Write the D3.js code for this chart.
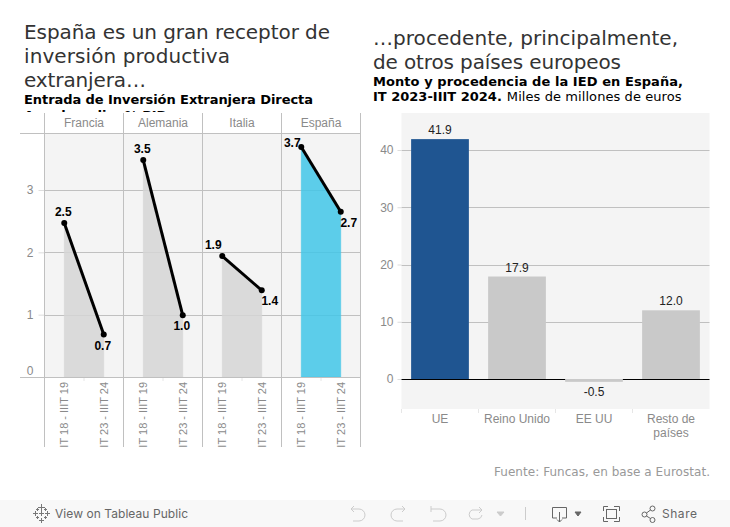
<!DOCTYPE html>
<html>
<head>
<meta charset="utf-8">
<script src="https://cdn.jsdelivr.net/npm/d3@7"></script>
<style>
  html, body { margin: 0; padding: 0; background: #fff; }
  svg { display: block; }
  text { font-family: "Liberation Sans", Arial, sans-serif; }
  .head { font-family: "DejaVu Sans", sans-serif; }
  .ui { font-family: Inter, Roboto, sans-serif; }
</style>
</head>
<body>
<div id="chart"></div>
<script>
const countries = ['Francia', 'Alemania', 'Italia', 'España'];
const periods = ['IT 18 - IIIT 19', 'IT 23 - IIIT 24'];
const startValues = [2.47, 3.48, 1.94, 3.69];
const endValues = [0.68, 0.99, 1.39, 2.65];
const startLabels = ['2.5', '3.5', '1.9', '3.7'];
const endLabels = ['0.7', '1.0', '1.4', '2.7'];
const leftTicks = [0, 1, 2, 3];

const origins = ['UE', 'Reino Unido', 'EE UU', 'Resto de países'];
const amounts = [41.9, 17.9, -0.5, 12.0];
const rightTicks = [0, 10, 20, 30, 40];

const svg = d3.select('#chart').append('svg').attr('width', 730).attr('height', 527);
const defs = svg.append('defs');

const gridColor = '#c0c0c0';
const panelColor = '#f4f4f4';
const tickText = '#8a8a8a';

function addLine(str, x, y, size, weight, color, len) {
  const t = svg.append('text').attr('class', 'head').attr('x', x).attr('y', y)
    .style('font-size', size + 'px').style('font-weight', weight).style('fill', color);
  if (len) t.attr('textLength', len);
  t.text(str);
  return t;
}

// Titles
addLine('España es un gran receptor de', 24, 39, 20, 400, '#333', 306);
addLine('inversión productiva', 24, 63, 20, 400, '#333', 206);
addLine('extranjera…', 24, 87, 20, 400, '#333', 122);
addLine('Entrada de Inversión Extranjera Directa', 24, 104, 13, 700, '#000', 289);

// Second subtitle line is cut off by the chart in the original
defs.append('clipPath').attr('id', 'subclip').append('rect')
  .attr('x', 20).attr('y', 108).attr('width', 320).attr('height', 4);
addLine('Anual media, % PIB', 24, 119.5, 13, 700, '#000').attr('clip-path', 'url(#subclip)');

addLine('…procedente, principalmente,', 373, 45, 20, 400, '#333', 305);
addLine('de otros países europeos', 373, 69, 20, 400, '#333', 248);
addLine('Monto y procedencia de la IED en España,', 373, 86, 13, 700, '#000', 310);
const sub2 = addLine('IT 2023-IIIT 2024.', 373, 101, 13, 700, '#000');
sub2.append('tspan').style('font-weight', 400).style('letter-spacing', '0.08px').attr('dx', 5).text('Miles de millones de euros');

// Left chart: small multiples
const left = { x0: 44.5, x1: 360.5, top: 113, header: 133, bottom: 377, end: 447 };

const panelX = d3.scaleBand().domain(countries).range([left.x0, left.x1]);
const periodX = d3.scaleBand().domain(periods).range([0, panelX.bandwidth()]);
const yLeft = d3.scaleLinear().domain([0, 3]).range([left.bottom, 190]);

svg.append('rect').attr('x', left.x0).attr('y', left.header)
  .attr('width', left.x1 - left.x0).attr('height', left.bottom - left.header)
  .attr('fill', panelColor);

const leftAxis = svg.append('g').attr('transform', `translate(${left.x0},0)`)
  .call(d3.axisLeft(yLeft).tickValues(leftTicks).tickSize(6).tickPadding(5).tickFormat(d3.format('d')));
leftAxis.select('.domain').remove();
leftAxis.selectAll('line').attr('stroke', '#ddd');
leftAxis.selectAll('text').style('font-size', '12px').style('fill', tickText)
  .attr('dy', (d) => (d === 0 ? '-0.25em' : '0.32em'));

svg.append('g').selectAll('line').data(leftTicks.slice(1)).enter().append('line')
  .attr('x1', left.x0).attr('x2', left.x1)
  .attr('y1', (d) => Math.round(yLeft(d)) + 0.5).attr('y2', (d) => Math.round(yLeft(d)) + 0.5)
  .attr('stroke', gridColor);

const area = d3.area().x((d) => d.x).y0(left.bottom).y1((d) => yLeft(d.v));
const line = d3.line().x((d) => d.x).y((d) => yLeft(d.v));

const panels = svg.append('g').selectAll('g').data(countries).enter().append('g')
  .attr('transform', (d) => `translate(${panelX(d)},0)`);

panels.each(function (country, i) {
  const g = d3.select(this);
  const pts = [
    { x: periodX(periods[0]) + periodX.bandwidth() / 2, v: startValues[i], label: startLabels[i] },
    { x: periodX(periods[1]) + periodX.bandwidth() / 2, v: endValues[i], label: endLabels[i] },
  ];
  const isSpain = country === 'España';

  g.append('path').attr('d', area(pts))
    .attr('fill', isSpain ? '#41c5e7' : '#d5d5d5').attr('fill-opacity', 0.85)
    .attr('stroke', isSpain ? '#41c5e7' : '#d5d5d5').attr('stroke-opacity', 0.45);

  g.append('path').attr('d', line(pts)).attr('fill', 'none')
    .attr('stroke', '#000').attr('stroke-width', 3);

  g.selectAll('circle').data(pts).enter().append('circle')
    .attr('cx', (d) => d.x).attr('cy', (d) => yLeft(d.v)).attr('r', 3).attr('fill', '#000');

  // Value labels sit above the start point and below the end point
  g.selectAll('text.val').data(pts).enter().append('text').attr('class', 'val')
    .attr('x', (d, j) => {
      if (isSpain || country === 'Italia') return j === 0 ? d.x - 9 : d.x + 8;
      return d.x - 1;
    })
    .attr('y', (d, j) => {
      if (isSpain) return j === 0 ? yLeft(d.v) : yLeft(d.v) + 15;
      return j === 0 ? yLeft(d.v) - 7 : yLeft(d.v) + 15;
    })
    .attr('text-anchor', 'middle')
    .style('font-size', '12px').style('font-weight', 700).style('fill', '#000')
    .text((d) => d.label);

  g.append('text').attr('x', panelX.bandwidth() / 2).attr('y', 127)
    .attr('text-anchor', 'middle').style('font-size', '12px').style('fill', tickText).text(country);

  const ax = g.append('g').attr('transform', `translate(0,${left.bottom})`)
    .call(d3.axisBottom(periodX).tickSize(0).tickPadding(0));
  ax.select('.domain').remove();
  ax.selectAll('text')
    .attr('transform', 'rotate(-90)').attr('x', -5).attr('y', 0).attr('dy', '0.35em')
    .attr('text-anchor', 'end')
    .style('font-size', '11px').style('fill', tickText);

  g.append('line').attr('x1', periodX.bandwidth()).attr('x2', periodX.bandwidth())
    .attr('y1', left.bottom).attr('y2', left.bottom + 4).attr('stroke', '#e6e6e6');
});

// Cover the cut-off end of the period labels
svg.append('rect').attr('x', left.x0).attr('y', left.end).attr('width', 330).attr('height', 20).attr('fill', '#fff');

// Panel rules
countries.concat(['end']).forEach((c) => {
  const x = c === 'end' ? left.x1 : panelX(c);
  svg.append('line').attr('x1', x).attr('x2', x).attr('y1', left.top).attr('y2', left.end).attr('stroke', gridColor);
});
svg.append('line').attr('x1', 20).attr('x2', left.x1).attr('y1', left.header + 0.5).attr('y2', left.header + 0.5).attr('stroke', gridColor);
svg.append('line').attr('x1', 20).attr('x2', left.x1).attr('y1', left.bottom + 0.5).attr('y2', left.bottom + 0.5).attr('stroke', gridColor);

// Right chart: bars
const right = { x0: 401.5, x1: 709.5, top: 113, bottom: 409 };
const xRight = d3.scaleBand().domain(origins).range([right.x0, right.x1]).paddingInner(0.25).paddingOuter(0.125);
const yRight = d3.scaleLinear().domain([0, 40]).range([379, 150]);

svg.append('rect').attr('x', right.x0).attr('y', right.top)
  .attr('width', right.x1 - right.x0).attr('height', right.bottom - right.top).attr('fill', panelColor);

svg.append('g').selectAll('line').data(rightTicks.slice(1)).enter().append('line')
  .attr('x1', right.x0).attr('x2', right.x1)
  .attr('y1', (d) => Math.round(yRight(d)) + 0.5).attr('y2', (d) => Math.round(yRight(d)) + 0.5)
  .attr('stroke', gridColor);

const rightAxis = svg.append('g').attr('transform', `translate(${right.x0},0)`)
  .call(d3.axisLeft(yRight).tickValues(rightTicks).tickSize(4).tickPadding(4));
rightAxis.select('.domain').remove();
rightAxis.selectAll('line').attr('stroke', '#ddd');
rightAxis.selectAll('text').style('font-size', '12px').style('fill', tickText);

// Zero line goes under the bars, the negative bar covers it
svg.append('line').attr('x1', right.x0).attr('x2', right.x1).attr('y1', yRight(0) + 0.5).attr('y2', yRight(0) + 0.5)
  .attr('stroke', '#000').attr('stroke-width', 1);

svg.append('g').selectAll('rect').data(origins).enter().append('rect')
  .attr('x', (d) => xRight(d)).attr('width', xRight.bandwidth())
  .attr('y', (d, i) => yRight(Math.max(0, amounts[i])))
  .attr('height', (d, i) => Math.abs(yRight(amounts[i]) - yRight(0)))
  .attr('fill', (d, i) => (i === 0 ? '#1f5591' : '#c9c9c9'));

svg.append('g').selectAll('text').data(origins).enter().append('text')
  .attr('x', (d) => xRight(d) + xRight.bandwidth() / 2)
  .attr('y', (d, i) => (amounts[i] < 0 ? yRight(amounts[i]) + 14 : yRight(amounts[i]) - 5))
  .attr('text-anchor', 'middle').style('font-size', '12px').style('fill', '#222')
  .text((d, i) => amounts[i].toFixed(1));

const step = xRight.step();
svg.append('g').selectAll('line').data(origins).enter().append('line')
  .attr('x1', (d, i) => right.x0 + i * step).attr('x2', (d, i) => right.x0 + i * step)
  .attr('y1', right.bottom).attr('y2', right.bottom + 4).attr('stroke', '#e6e6e6');

const catLabels = svg.append('g').selectAll('text').data(origins).enter().append('text')
  .attr('x', (d) => xRight(d) + xRight.bandwidth() / 2)
  .attr('y', 423).attr('text-anchor', 'middle')
  .style('font-size', '12px').style('fill', tickText);
catLabels.each(function (d) {
  const parts = d === 'Resto de países' ? ['Resto de', 'países'] : [d];
  const t = d3.select(this);
  parts.forEach((p, i) => {
    t.append('tspan').attr('x', t.attr('x')).attr('dy', i === 0 ? 0 : 14).text(p);
  });
});

// Source
svg.append('text').attr('class', 'head').attr('x', 710).attr('y', 476).attr('text-anchor', 'end')
  .attr('textLength', 216).style('font-size', '12px').style('fill', '#999')
  .text('Fuente: Funcas, en base a Eurostat.');

// Tableau toolbar
svg.append('rect').attr('x', 0).attr('y', 500).attr('width', 730).attr('height', 27).attr('fill', '#f8f8f8');
svg.append('text').attr('class', 'ui').attr('x', 55).attr('y', 518).attr('textLength', 133)
  .style('font-size', '12px').style('fill', '#666').text('View on Tableau Public');
svg.append('text').attr('class', 'ui').attr('x', 662).attr('y', 518).attr('textLength', 35)
  .style('font-size', '12px').style('fill', '#666').text('Share');

const icons = svg.append('g').attr('fill', 'none').attr('stroke-width', 1);
// Tableau logo
const logo = icons.append('g').attr('stroke', '#777');
[[41, 507, 3], [41, 520, 2], [35, 513, 2], [47, 513, 2], [37, 509, 1], [45, 509, 1], [37, 517, 1], [45, 517, 1], [41, 513, 2]].forEach(([cx, cy, r]) => {
  logo.append('path').attr('d', `M${cx - r},${cy + 0.5}H${cx + r + 1}M${cx + 0.5},${cy - r}V${cy + r + 1}`);
});
// Undo, redo, revert, refresh
const off = icons.append('g').attr('stroke', '#ccc').attr('transform', 'translate(0,1)');
off.append('path').attr('d', 'M351,508H359A6,6 0 0 1 359,520H353M351,508L354,505M351,508L354,511');
off.append('path').attr('d', 'M405,508H397A6,6 0 0 0 397,520H403M405,508L402,505M405,508L402,511');
off.append('path').attr('d', 'M431,505V511M431,508H440A6,6 0 0 1 440,520H433');
off.append('path').attr('d', 'M482,509H472A5,5 0 0 0 472,518H478A5,5 0 0 0 482,514M482,509L479,506M482,509L479,512');
off.append('path').attr('d', 'M497,511H504L500.5,515Z').attr('fill', '#ccc');
off.append('path').attr('d', 'M525.5,506V519');
const on = icons.append('g').attr('stroke', '#666');
on.append('path').attr('d', 'M557,518H552.5V507.5H566.5V518H562M559.5,512V522M557,519.5L559.5,522L562,519.5');
on.append('path').attr('d', 'M575,512H581L578,516Z').attr('fill', '#666');
on.append('path').attr('d', 'M603.5,511V506.5H608M614,506.5H619.5V511M619.5,517V521.5H614M608,521.5H603.5V517');
on.append('rect').attr('x', 606.5).attr('y', 509.5).attr('width', 10).attr('height', 9);
on.append('circle').attr('cx', 644.5).attr('cy', 514.5).attr('r', 2.5);
on.append('circle').attr('cx', 652.5).attr('cy', 508.5).attr('r', 2.5);
on.append('circle').attr('cx', 652.5).attr('cy', 520).attr('r', 2.5);
on.append('path').attr('d', 'M646.5,513L650.5,510M646.5,516L650.5,518.5');
</script>
</body>
</html>
